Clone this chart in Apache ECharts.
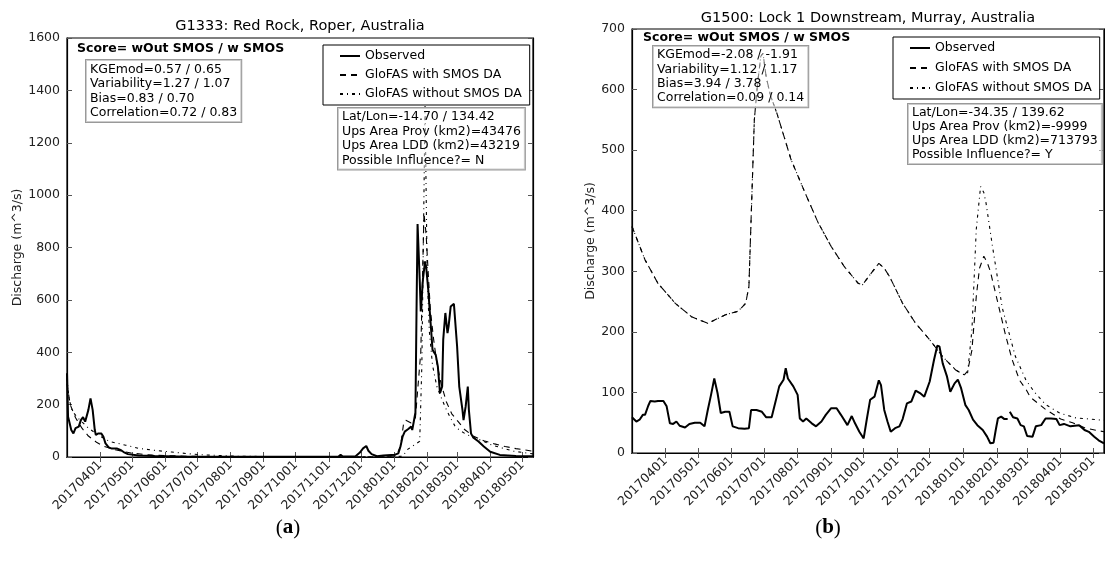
<!DOCTYPE html>
<html>
<head>
<meta charset="utf-8">
<title>GloFAS discharge</title>
<script src="https://cdn.jsdelivr.net/npm/echarts@6/dist/echarts.min.js"></script>
<style>
  html, body { margin: 0; padding: 0; background: #fff; }
  #chart { width: 1105px; height: 572px; }
</style>
</head>
<body>
<div id="chart"></div>
<script>
// ---- data ----
const startDate = '20170301'
const endDate = '20180511'
const seriesNames = ['Observed', 'GloFAS with SMOS DA', 'GloFAS without SMOS DA']

// (a) G1333 Red Rock, Roper
const aObserved = [
  ['20170301', 320], ['20170302', 154], ['20170305', 103], ['20170307', 90], ['20170309', 110],
  ['20170312', 116], ['20170314', 141], ['20170316', 152], ['20170318', 135], ['20170321', 180],
  ['20170323', 224], ['20170325', 180], ['20170327', 103], ['20170328', 84], ['20170330', 90],
  ['20170402', 90], ['20170404', 78], ['20170406', 52], ['20170409', 37], ['20170412', 32],
  ['20170417', 32], ['20170420', 27], ['20170423', 19], ['20170427', 11], ['20170507', 6],
  ['20170522', 4], ['20170623', 1], ['20170917', 1], ['20171110', 2], ['20171112', 8],
  ['20171114', 2], ['20171126', 3], ['20171130', 17], ['20171203', 33], ['20171206', 42],
  ['20171208', 24], ['20171211', 11], ['20171216', 3], ['20171222', 6], ['20180102', 9],
  ['20180105', 14], ['20180107', 40], ['20180109', 78], ['20180111', 97], ['20180114', 106],
  ['20180117', 116], ['20180118', 103], ['20180119', 125], ['20180121', 170], ['20180122', 550],
  ['20180123', 890], ['20180125', 677], ['20180126', 556], ['20180128', 677], ['20180130', 747],
  ['20180131', 728], ['20180202', 639], ['20180204', 524], ['20180206', 409], ['20180209', 390],
  ['20180211', 345], ['20180213', 244], ['20180215', 269], ['20180216', 448], ['20180218', 550],
  ['20180220', 473], ['20180221', 498], ['20180223', 575], ['20180226', 585], ['20180227', 581],
  ['20180301', 422], ['20180303', 269], ['20180306', 180], ['20180307', 141], ['20180309', 193],
  ['20180311', 269], ['20180312', 180], ['20180314', 90], ['20180316', 75], ['20180321', 59],
  ['20180326', 40], ['20180401', 20], ['20180410', 8], ['20180425', 4], ['20180511', 3]
]
const aWithDA = [
  ['20170301', 280], ['20170304', 200], ['20170309', 150], ['20170315', 110], ['20170321', 80],
  ['20170329', 55], ['20170405', 40], ['20170415', 28], ['20170430', 15], ['20170520', 7],
  ['20170619', 3], ['20170729', 1], ['20171226', 1], ['20180103', 5], ['20180107', 40],
  ['20180110', 130], ['20180112', 140], ['20180117', 130], ['20180121', 150], ['20180126', 400],
  ['20180129', 930], ['20180131', 850], ['20180202', 700], ['20180204', 560], ['20180207', 450],
  ['20180210', 360], ['20180214', 280], ['20180219', 210], ['20180224', 165], ['20180302', 135],
  ['20180308', 105], ['20180316', 80], ['20180326', 62], ['20180405', 50], ['20180415', 40],
  ['20180425', 32], ['20180511', 22]
]
const aWithoutDA = [
  ['20170301', 300], ['20170303', 220], ['20170306', 175], ['20170311', 150], ['20170316', 130],
  ['20170321', 110], ['20170331', 82], ['20170410', 59], ['20170425', 45], ['20170507', 33],
  ['20170525', 24], ['20170607', 19], ['20170624', 12], ['20170707', 8], ['20170808', 3],
  ['20170917', 1], ['20171226', 1], ['20180109', 3], ['20180114', 30], ['20180125', 60],
  ['20180127', 350], ['20180130', 1340], ['20180201', 700], ['20180203', 480], ['20180206', 350],
  ['20180210', 270], ['20180214', 228], ['20180219', 180], ['20180224', 140], ['20180227', 118],
  ['20180304', 100], ['20180309', 88], ['20180316', 75], ['20180324', 63], ['20180401', 48],
  ['20180409', 38], ['20180423', 22], ['20180511', 12]
]

// (b) G1500 Lock 1 Downstream, Murray
const bObserved = [
  ['20170301', 59], ['20170305', 52], ['20170308', 55], ['20170311', 63], ['20170313', 63],
  ['20170316', 78], ['20170318', 86], ['20170322', 85], ['20170325', 86], ['20170330', 86],
  ['20170402', 77], ['20170405', 49], ['20170408', 48], ['20170411', 52], ['20170414', 45],
  ['20170419', 42], ['20170423', 48], ['20170428', 50], ['20170503', 50], ['20170507', 44],
  ['20170510', 71], ['20170513', 96], ['20170516', 123], ['20170519', 99], ['20170522', 66],
  ['20170526', 68], ['20170530', 68], ['20170602', 44], ['20170607', 41], ['20170613', 40],
  ['20170617', 41], ['20170619', 71], ['20170624', 71], ['20170629', 68], ['20170703', 59],
  ['20170708', 59], ['20170712', 88], ['20170715', 110], ['20170719', 121], ['20170721', 140],
  ['20170723', 123], ['20170728', 110], ['20170801', 96], ['20170803', 57], ['20170806', 52],
  ['20170809', 57], ['20170814', 49], ['20170818', 44], ['20170823', 52], ['20170827', 63],
  ['20170901', 74], ['20170906', 74], ['20170910', 63], ['20170916', 46], ['20170920', 61],
  ['20170923', 49], ['20170927', 35], ['20171001', 24], ['20171004', 57], ['20171007', 88],
  ['20171011', 93], ['20171015', 120], ['20171017', 112], ['20171020', 71], ['20171023', 52],
  ['20171026', 35], ['20171030', 41], ['20171103', 44], ['20171106', 56], ['20171110', 82],
  ['20171114', 85], ['20171118', 103], ['20171122', 99], ['20171126', 93], ['20171201', 118],
  ['20171205', 154], ['20171208', 177], ['20171210', 176], ['20171213', 148], ['20171217', 126],
  ['20171220', 101], ['20171224', 115], ['20171227', 121], ['20171230', 107], ['20180103', 79],
  ['20180106', 71], ['20180110', 55], ['20180114', 46], ['20180119', 38], ['20180123', 27],
  ['20180126', 16], ['20180129', 17], ['20180131', 38], ['20180202', 57], ['20180205', 60],
  ['20180208', 56], ['20180211', 56], ['20180212', null], ['20180213', 68], ['20180216', 59],
  ['20180220', 57], ['20180223', 46], ['20180226', 44], ['20180301', 28], ['20180306', 27],
  ['20180309', 44], ['20180314', 46], ['20180318', 57], ['20180323', 57], ['20180328', 56],
  ['20180331', 46], ['20180404', 48], ['20180410', 44], ['20180418', 46], ['20180423', 38],
  ['20180427', 35], ['20180502', 27], ['20180506', 21], ['20180511', 16]
]
const bWithDA = [
  ['20170301', 374], ['20170313', 319], ['20170325', 280], ['20170410', 247], ['20170425', 225],
  ['20170510', 214], ['20170526', 228], ['20170607', 234], ['20170614', 247], ['20170617', 275],
  ['20170619', 385], ['20170622', 550], ['20170625', 610], ['20170628', 655], ['20170630', 660],
  ['20170703', 620], ['20170707', 590], ['20170713', 560], ['20170726', 484], ['20170808', 429],
  ['20170820', 380], ['20170901', 341], ['20170913', 308], ['20170926', 280], ['20170930', 278],
  ['20171008', 297], ['20171015', 313], ['20171020', 305], ['20171025', 291], ['20171106', 247],
  ['20171118', 214], ['20171201', 187], ['20171213', 159], ['20171225', 137], ['20180102', 129],
  ['20180105', 135], ['20180109', 170], ['20180113', 258], ['20180116', 305], ['20180120', 325],
  ['20180123', 315], ['20180126', 300], ['20180203', 240], ['20180209', 195], ['20180215', 155],
  ['20180222', 120], ['20180228', 105], ['20180304', 92], ['20180318', 72], ['20180401', 56],
  ['20180412', 50], ['20180424', 41], ['20180511', 35]
]
const bWithoutDA = [
  ['20170301', 374], ['20170313', 319], ['20170325', 280], ['20170410', 247], ['20170425', 225],
  ['20170510', 214], ['20170526', 228], ['20170607', 234], ['20170614', 247], ['20170617', 275],
  ['20170619', 385], ['20170622', 550], ['20170625', 610], ['20170628', 655], ['20170630', 660],
  ['20170703', 620], ['20170707', 590], ['20170713', 560], ['20170726', 484], ['20170808', 429],
  ['20170820', 380], ['20170901', 341], ['20170913', 308], ['20170926', 280], ['20170930', 278],
  ['20171008', 297], ['20171015', 313], ['20171020', 305], ['20171025', 291], ['20171106', 247],
  ['20171118', 214], ['20171201', 187], ['20171213', 159], ['20171225', 137], ['20180102', 129],
  ['20180105', 132], ['20180109', 203], ['20180113', 369], ['20180117', 440], ['20180120', 430],
  ['20180122', 413], ['20180128', 341], ['20180206', 240], ['20180212', 200], ['20180218', 160],
  ['20180228', 120], ['20180308', 100], ['20180318', 80], ['20180331', 66], ['20180415', 58],
  ['20180511', 54]
]

const aTitle = 'G1333: Red Rock, Roper, Australia'
const bTitle = 'G1500: Lock 1 Downstream, Murray, Australia'
const scoreHead = 'Score= wOut SMOS / w SMOS'
const aScores = ['KGEmod=0.57 / 0.65', 'Variability=1.27 / 1.07', 'Bias=0.83 / 0.70', 'Correlation=0.72 / 0.83']
const bScores = ['KGEmod=-2.08 / -1.91', 'Variability=1.12 / 1.17', 'Bias=3.94 / 3.78', 'Correlation=0.09 / 0.14']
const aInfo = ['Lat/Lon=-14.70 / 134.42', 'Ups Area Prov (km2)=43476', 'Ups Area LDD (km2)=43219', 'Possible Influence?= N']
const bInfo = ['Lat/Lon=-34.35 / 139.62', 'Ups Area Prov (km2)=-9999', 'Ups Area LDD (km2)=713793', 'Possible Influence?= Y']

// ---- chart ----
const FONT = 'DejaVu Sans'

// one category per day, so month ticks land where the calendar puts them
function buildDays(start, end) {
  const toDate = s => new Date(Date.UTC(+s.slice(0, 4), +s.slice(4, 6) - 1, +s.slice(6, 8)))
  const out = []
  for (let d = toDate(start); d <= toDate(end); d.setUTCDate(d.getUTCDate() + 1)) {
    out.push(d.toISOString().slice(0, 10).replace(/-/g, ''))
  }
  return out
}
const days = buildDays(startDate, endDate)
const isMonthStart = (i, v) => i > 0 && v.slice(6) === '01'

function xAxisFor(gridIndex, position, showLabel) {
  return {
    type: 'category', gridIndex, position, data: days, boundaryGap: false,
    axisLine: { lineStyle: { color: '#000', width: 1.2 } },
    axisTick: { inside: true, length: 5, interval: isMonthStart, lineStyle: { color: '#555' } },
    axisLabel: {
      show: showLabel, interval: isMonthStart, rotate: 45, margin: 6,
      fontFamily: FONT, fontSize: 12.5, color: '#222'
    },
    splitLine: { show: false }
  }
}

function yAxisFor(gridIndex, position, max, interval, showLabel, nameGap) {
  return {
    type: 'value', gridIndex, position, min: 0, max, interval,
    name: showLabel ? 'Discharge (m^3/s)' : '', nameLocation: 'middle', nameGap,
    nameTextStyle: { fontFamily: FONT, fontSize: 12.5, color: '#222' },
    axisLine: { show: true, lineStyle: { color: '#000', width: 1.2 } },
    axisTick: { show: true, inside: true, length: 5, lineStyle: { color: '#555' } },
    axisLabel: {
      show: showLabel, margin: 7, formatter: v => String(v),
      fontFamily: FONT, fontSize: 12.5, color: '#222'
    },
    splitLine: { show: false }
  }
}

const solid = { color: '#000', width: 2, type: 'solid' }
const dashed = { color: '#000', width: 1.1, type: [6, 5] }
const dashDot = { color: '#000', width: 1.1, type: [3, 4, 1, 4] }

function lineSeries(name, axisIndex, data, lineStyle) {
  return {
    name, type: 'line', xAxisIndex: axisIndex, yAxisIndex: axisIndex,
    data, symbol: 'none', showSymbol: false, connectNulls: false,
    lineStyle, itemStyle: { color: '#000' }, animation: false
  }
}

function legendAt(left, top, gap) {
  return {
    left, top, orient: 'vertical', data: seriesNames,
    itemWidth: 20, itemHeight: 14, itemGap: gap,
    padding: [4, 8, 4, 16],
    backgroundColor: '#fff', borderColor: '#000', borderWidth: 1, borderRadius: 0,
    itemStyle: { opacity: 0 },
    textStyle: { fontFamily: FONT, fontSize: 12.5, color: '#000', lineHeight: 14 },
    selectedMode: false
  }
}

function textBox(x, y, lines, lineHeight) {
  return {
    type: 'text', x, y, z: 100,
    style: {
      text: lines.join('\n'), font: '12.5px "DejaVu Sans"', fill: '#000', lineHeight,
      padding: [2, 4, 2, 4], borderColor: '#999', borderWidth: 1,
      backgroundColor: 'rgba(255,255,255,0.5)'
    }
  }
}

function scoreTitle(x, y) {
  return {
    type: 'text', x, y, z: 100,
    style: { text: scoreHead, font: 'bold 12.5px "DejaVu Sans"', fill: '#000', verticalAlign: 'middle' }
  }
}

function caption(x, y, letter) {
  return {
    type: 'text', x, y, z: 100,
    style: {
      text: '{p|(}{b|' + letter + '}{p|)}',
      align: 'center', verticalAlign: 'middle',
      rich: {
        p: { font: '21px "Liberation Serif"', fill: '#000' },
        b: { font: 'bold 21px "Liberation Serif"', fill: '#000' }
      }
    }
  }
}

const chart = echarts.init(document.getElementById('chart'), null, { renderer: 'canvas' })

chart.setOption({
  animation: false,
  backgroundColor: '#fff',
  title: [
    { text: aTitle, left: 300, top: 19, textAlign: 'center', padding: 0,
      textStyle: { fontFamily: FONT, fontSize: 14.5, fontWeight: 'normal', color: '#000' } },
    { text: bTitle, left: 868, top: 11, textAlign: 'center', padding: 0,
      textStyle: { fontFamily: FONT, fontSize: 14.5, fontWeight: 'normal', color: '#000' } }
  ],
  grid: [
    { left: 67, top: 38, width: 466, height: 419, show: true, borderColor: '#000', borderWidth: 1.2 },
    { left: 632, top: 29, width: 472, height: 424, show: true, borderColor: '#000', borderWidth: 1.2 }
  ],
  xAxis: [
    xAxisFor(0, 'bottom', true),
    xAxisFor(1, 'bottom', true),
    xAxisFor(0, 'top', false),
    xAxisFor(1, 'top', false)
  ],
  yAxis: [
    yAxisFor(0, 'left', 1600, 200, true, 43),
    yAxisFor(1, 'left', 700, 100, true, 35),
    yAxisFor(0, 'right', 1600, 200, false, 0),
    yAxisFor(1, 'right', 700, 100, false, 0)
  ],
  legend: [legendAt(323, 45, 5), legendAt(893, 37, 6)],
  series: [
    lineSeries(seriesNames[1], 0, aWithDA, dashed),
    lineSeries(seriesNames[2], 0, aWithoutDA, dashDot),
    lineSeries(seriesNames[0], 0, aObserved, solid),
    lineSeries(seriesNames[1], 1, bWithDA, dashed),
    lineSeries(seriesNames[2], 1, bWithoutDA, dashDot),
    lineSeries(seriesNames[0], 1, bObserved, solid)
  ],
  graphic: [
    scoreTitle(77, 49),
    textBox(86, 60, aScores, 14.5),
    textBox(338, 108, aInfo, 14.4),
    scoreTitle(643, 38),
    textBox(653, 46, bScores, 14.3),
    textBox(908, 104, bInfo, 14),
    caption(288, 528, 'a'),
    caption(828, 528, 'b')
  ]
})
</script>
</body>
</html>
